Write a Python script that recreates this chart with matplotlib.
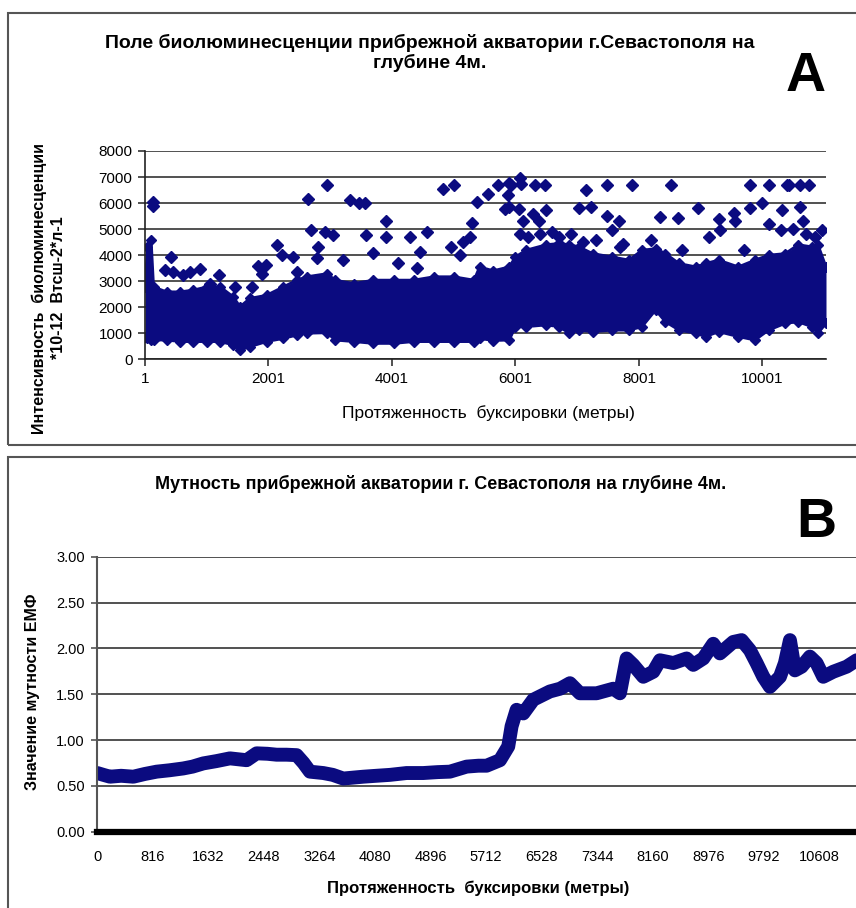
import numpy as np
import matplotlib
matplotlib.use("Agg")
from matplotlib import pyplot as plt
from matplotlib.patches import Rectangle

NAVY = "#0b0b80"
NARROW = ["Liberation Sans Narrow", "Liberation Sans", "DejaVu Sans"]
WIDE = ["Liberation Sans", "DejaVu Sans"]

# --- panel A: bioluminescence, dense core of the cloud (lower / upper edge) ---
biolum_dist = [1, 40, 100, 140, 350, 570, 785, 1000, 1220, 1430, 1540, 1700, 1970,
               2240, 2460, 2620, 2950, 3080, 3380, 3700, 4030, 4350, 4680, 5000, 5330,
               5420, 5640, 5900, 6000, 6170, 6500, 6710, 6870, 7030, 7250, 7570, 7840,
               8050, 8270, 8430, 8650, 8920, 9080, 9290, 9610, 9880, 10100, 10370, 10580,
               10800, 10900, 11030]
biolum_low = [870, 800, 760, 740, 740, 680, 680, 680, 680, 550, 360, 485, 680,
              800, 930, 1000, 1020, 740, 680, 610, 610, 680, 680, 680, 680,
              800, 720, 740, 1250, 1250, 1320, 1250, 1000, 1120, 1060, 1120, 1120,
              1250, 1890, 1440, 1120, 1000, 870, 1060, 870, 740, 1120, 1380, 1440,
              1250, 1000, 1380]
biolum_high = [2780, 4300, 4600, 2780, 2590, 2590, 2660, 2780, 2780, 2400, 2020, 2340, 2460,
               2780, 3040, 3170, 3290, 3040, 2910, 3040, 3040, 3040, 3170, 3170, 3040,
               3550, 3400, 3550, 3930, 4190, 4400, 4450, 4400, 4320, 4060, 3930, 3810,
               4190, 4250, 4060, 3680, 3550, 3680, 3810, 3550, 3810, 4000, 4060, 4400,
               4320, 4400, 3550]

# single points standing out above the core
spike_dist = [125, 130, 325, 416, 460, 622, 730, 892, 1055, 1205, 1460, 1730, 1838, 1893,
              1963, 2136, 2217, 2406, 2460, 2633, 2687, 2780, 2800, 2909, 2947, 3044, 3200,
              3325, 3460, 3568, 3585, 3700, 3903, 3909, 4100, 4287, 4400, 4449, 4568, 4822,
              4950, 5000, 5100, 5152, 5271, 5298, 5379, 5557, 5719, 5824, 5877, 5893, 5904,
              5931, 6066, 6076, 6076, 6092, 6119, 6200, 6280, 6324, 6388, 6400, 6485, 6495,
              6600, 6700, 6900, 7022, 7100, 7151, 7221, 7300, 7490, 7490, 7571, 7678, 7700,
              7743, 7883, 8200, 8334, 8512, 8635, 8700, 8958, 9130, 9291, 9318, 9533, 9560,
              9700, 9802, 9802, 9990, 10108, 10108, 10302, 10313, 10393, 10431, 10500, 10608,
              10608, 10650, 10700, 10753, 10850, 10958]
spike_val = [6040, 5880, 3420, 3910, 3360, 3230, 3360, 3450, 2910, 3240, 2780, 2780, 3580, 3290,
             3640, 4380, 4000, 3930, 3360, 6140, 4980, 3900, 4300, 4890, 6700, 4790, 3800,
             6100, 6000, 6000, 4790, 4100, 4700, 5300, 3700, 4700, 3500, 4130, 4890, 6530,
             4300, 6700, 4000, 4510, 4700, 5240, 6040, 6360, 6700, 5790, 6300, 6770, 5850,
             6700, 5790, 6960, 4830, 6740, 5300, 4700, 5590, 6700, 5300, 4800, 6700, 5720,
             4900, 4700, 4800, 5810, 4500, 6490, 5850, 4600, 6700, 5490, 4980, 5300, 4300,
             4440, 6700, 4600, 5460, 6700, 5430, 4200, 5810, 4700, 5400, 4980, 5620, 5300,
             4200, 6700, 5810, 6000, 6700, 5210, 4980, 5720, 6700, 6700, 5000, 6700,
             5850, 5300, 4800, 6700, 4700, 4960]

a_ticks = [1, 2001, 4001, 6001, 8001, 10001]

# --- panel B: turbidity ---
turb_dist = [0, 90, 186, 350, 529, 700, 872, 1060, 1263, 1400, 1557, 1750, 1949, 2194, 2341,
             2500, 2635, 2780, 2929, 3030, 3124, 3320, 3460, 3614, 3760, 3908, 4100, 4300,
             4544, 4789, 5000, 5181, 5426, 5600, 5720, 5916, 6038, 6087, 6161, 6259, 6406,
             6650, 6800, 6944, 7091, 7336, 7581, 7679, 7777, 7875, 8022, 8169, 8267, 8463,
             8659, 8757, 8904, 9050, 9148, 9344, 9467, 9589, 9687, 9785, 9883, 10030, 10103,
             10177, 10250, 10348, 10470, 10568, 10666, 10813, 11009, 11156, 11244]
turb_val = [0.64, 0.62, 0.60, 0.61, 0.60, 0.63, 0.655, 0.67, 0.69, 0.71, 0.745, 0.77, 0.80,
            0.78, 0.855, 0.85, 0.84, 0.84, 0.835, 0.75, 0.655, 0.64, 0.62, 0.58, 0.59, 0.60,
            0.61, 0.62, 0.64, 0.64, 0.65, 0.655, 0.71, 0.72, 0.72, 0.78, 0.93, 1.15, 1.33,
            1.29, 1.44, 1.53, 1.56, 1.62, 1.51, 1.51, 1.56, 1.51, 1.89, 1.82, 1.69, 1.745,
            1.87, 1.84, 1.89, 1.82, 1.89, 2.05, 1.945, 2.07, 2.09, 1.98, 1.84, 1.69, 1.58,
            1.69, 1.84, 2.09, 1.76, 1.80, 1.91, 1.84, 1.69, 1.745, 1.80, 1.87, 1.84]

b_ticks = [0, 816, 1632, 2448, 3264, 4080, 4896, 5712, 6528, 7344, 8160, 8976, 9792, 10608]
b_yticks = [0.0, 0.5, 1.0, 1.5, 2.0, 2.5, 3.0]

W, H = 856, 908
fig = plt.figure(figsize=(W / 100, H / 100), dpi=100)


def fx(px):
    return px / W


def fy(py):
    return 1 - py / H


# panel frames
fig.patches.append(Rectangle((fx(8), fy(445)), 1.0, (445 - 12.7) / H, transform=fig.transFigure,
                             fill=False, ec="#555555", lw=1.5))
fig.patches.append(Rectangle((fx(8), fy(915)), 1.0, (915 - 456.7) / H, transform=fig.transFigure,
                             fill=False, ec="#555555", lw=1.5))

# ---------------- panel A ----------------
axA = fig.add_axes([fx(145), fy(359.3), fx(826) - fx(145), (359.3 - 151) / H])
axA.fill_between(biolum_dist, biolum_low, biolum_high, color=NAVY, lw=0)
axA.plot(biolum_dist, biolum_low, color=NAVY, lw=2, marker="D", ms=5.5)
axA.plot(biolum_dist, biolum_high, color=NAVY, lw=2, marker="D", ms=5.5)
axA.plot(spike_dist, spike_val, ls="none", color=NAVY, marker="D", ms=6)
axA.set_xlim(1, 11030)
axA.set_ylim(0, 8000)
axA.set_yticks(range(0, 8001, 1000))
axA.set_xticks(a_ticks)
axA.grid(axis="y", color="#222222", lw=1.1)
axA.set_axisbelow(True)
for s in ["top", "right"]:
    axA.spines[s].set_visible(False)
for s in ["left", "bottom"]:
    axA.spines[s].set_color("#222222")
    axA.spines[s].set_linewidth(1.2)
axA.tick_params(direction="out", length=5, width=1.1, color="#222222", pad=4)
for lab in axA.get_xticklabels() + axA.get_yticklabels():
    lab.set_family(NARROW)
    lab.set_fontsize(11)

fig.text(fx(430), fy(53), "Поле биолюминесценции прибрежной акватории г.Севастополя на\nглубине 4м.",
         ha="center", va="center", family=WIDE, weight="bold", fontsize=14, linespacing=1.2)
fig.text(fx(806), fy(77), "A", ha="center", va="center", family=WIDE, weight="bold", fontsize=40)
fig.text(fx(49), fy(288), "Интенсивность  биолюминесценции\n*10-12  Втсш-2*л-1", rotation=90,
         ha="center", va="center", family=WIDE, weight="bold", fontsize=11.5, linespacing=1.3)
fig.text(fx(488), fy(413), "Протяженность  буксировки (метры)", ha="center", va="center",
         family=NARROW, fontsize=12.5)

# ---------------- panel B ----------------
px_per_m = 0.06806
xmaxB = 11300
axB = fig.add_axes([fx(97.3), fy(831.7), xmaxB * px_per_m / W, (831.7 - 556.7) / H])
axB.plot(turb_dist, turb_val, color=NAVY, lw=10, solid_joinstyle="round", solid_capstyle="round")
axB.axhline(0, color="black", lw=4.5, clip_on=False, zorder=5)
axB.set_xlim(0, xmaxB)
axB.set_ylim(0, 3.0)
axB.set_yticks(b_yticks)
axB.set_yticklabels([f"{v:.2f}" for v in b_yticks])
axB.set_xticks(b_ticks)
axB.grid(axis="y", color="#333333", lw=1.2)
axB.set_axisbelow(True)
for s in ["top", "right", "bottom"]:
    axB.spines[s].set_visible(False)
axB.spines["left"].set_color("#555555")
axB.spines["left"].set_linewidth(1.5)
axB.tick_params(axis="y", direction="out", length=4, width=1.2, color="#555555", pad=5)
axB.tick_params(axis="x", length=0, pad=13)
for lab in axB.get_xticklabels() + axB.get_yticklabels():
    lab.set_family(NARROW)
    lab.set_fontsize(10.5)

fig.text(fx(441), fy(484), "Мутность прибрежной акватории г. Севастополя на глубине 4м.",
         ha="center", va="center", family=NARROW, weight="bold", fontsize=13)
fig.text(fx(816), fy(523), "B", ha="center", va="center", family=WIDE, weight="bold", fontsize=40)
fig.text(fx(33), fy(692), "Значение мутности ЕМФ", rotation=90, ha="center", va="center",
         family=WIDE, weight="bold", fontsize=11.5)
fig.text(fx(478), fy(888), "Протяженность  буксировки (метры)", ha="center", va="center",
         family=NARROW, weight="bold", fontsize=12)

fig.savefig("out.png", dpi=100, facecolor="white")
